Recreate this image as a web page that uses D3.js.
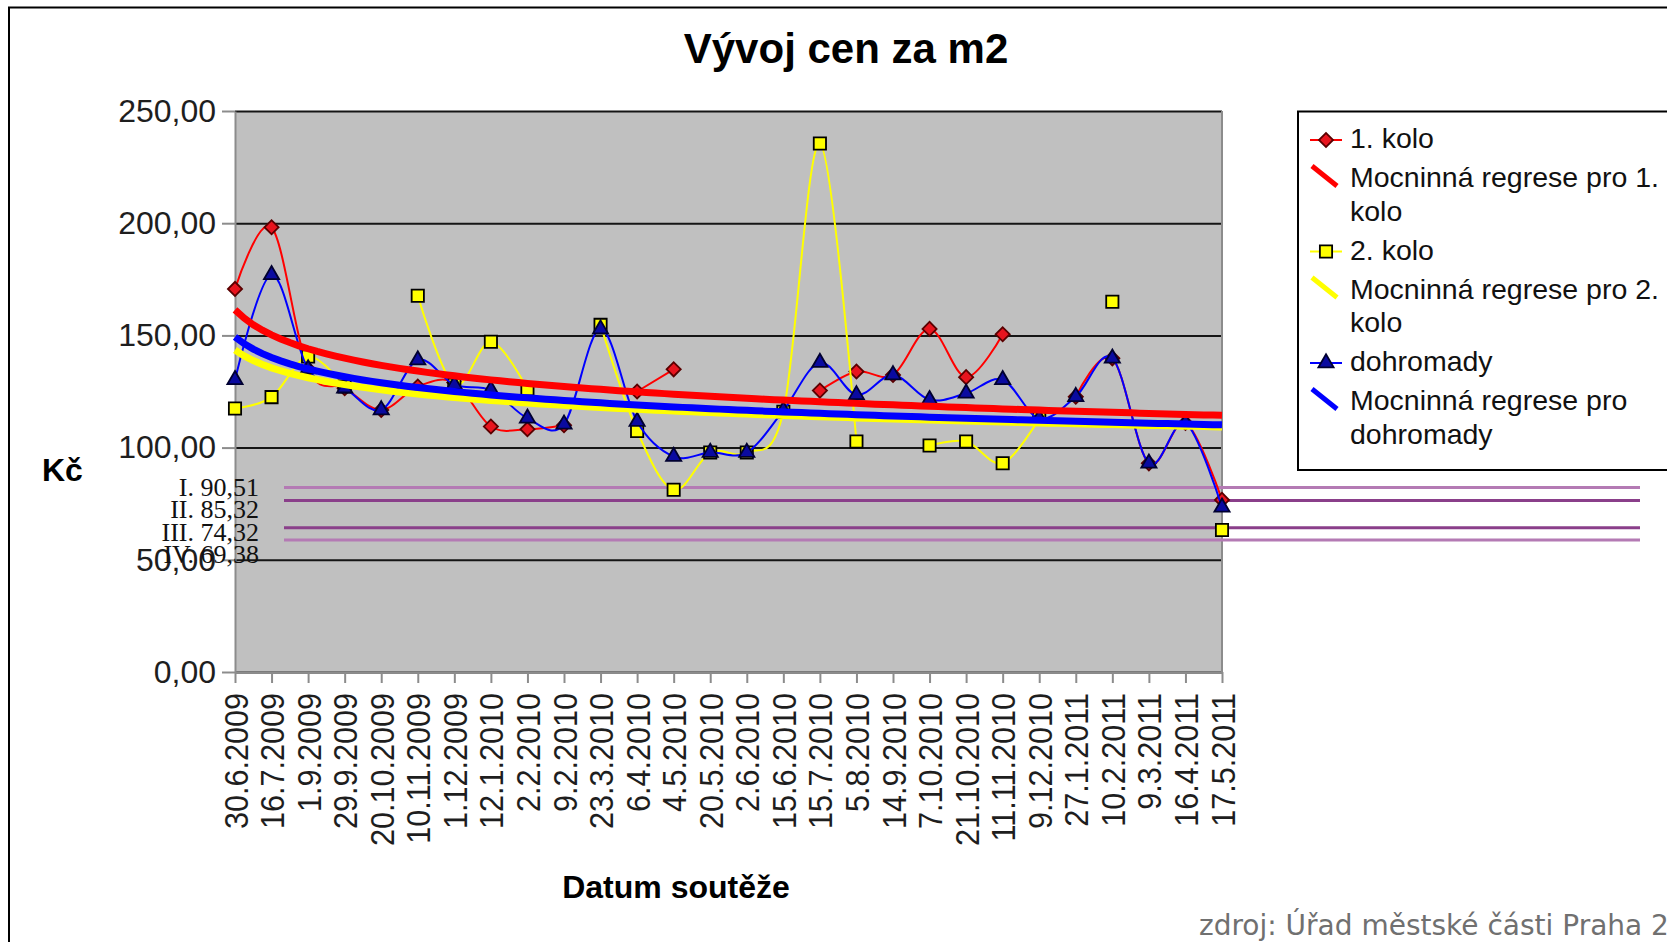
<!DOCTYPE html>
<html>
<head>
<meta charset="utf-8">
<script src="https://cdn.jsdelivr.net/npm/d3@7"></script>
<style>
  body { margin: 0; background: #fff; }
  svg { display: block; }
</style>
</head>
<body>
<div id="chart"></div>
<script>
// values (Kč per m2, one per auction date)
var dates = ["30.6.2009", "16.7.2009", "1.9.2009", "29.9.2009", "20.10.2009", "10.11.2009",
  "1.12.2009", "12.1.2010", "2.2.2010", "9.2.2010", "23.3.2010", "6.4.2010", "4.5.2010",
  "20.5.2010", "2.6.2010", "15.6.2010", "15.7.2010", "5.8.2010", "14.9.2010", "7.10.2010",
  "21.10.2010", "11.11.2010", "9.12.2010", "27.1.2011", "10.2.2011", "9.3.2011",
  "16.4.2011", "17.5.2011"];

var kolo1 = [170.7, 198.2, 135, 126.5, 116.8, 127.2, 129, 109.4, 108.2, 110, null, 125, 134.9,
  null, null, null, 125.4, 133.9, 132.4, 152.9, 131.4, 150.5, null, 122.7, 139.8, 93, 111, 76.7];

var kolo2 = [117.4, 122.5, 140.6, 127.2, null, 167.7, 128, 147.2, 126, null, 154.7, 107.4, 81.2,
  97.8, 97.8, 116, 235.5, 102.7, null, 100.9, 102.7, 93, 113, null, 165, null, null, 63.3];

var dohromady = [130.2, 177, 135, 126.5, 116.8, 139, 128, 125.7, 113.1, 110.4, 152.8, 111.6, 96,
  97.8, 97.8, 116.5, 137.9, 123.5, 132.4, 121.3, 124.2, 130.2, 113, 122.7, 139.8, 93, 111, 73.4];

var yTicks = [0, 50, 100, 150, 200, 250];

// hand drawn limit lines with their captions
var limitLabels = ["I. 90,51", "II. 85,32", "III. 74,32", "IV. 69,38"];
var limitValues = [90.51, 85.32, 74.32, 69.38];

var legendTexts = [
  ["1. kolo"],
  ["Mocninná regrese pro 1.", "kolo"],
  ["2. kolo"],
  ["Mocninná regrese pro 2.", "kolo"],
  ["dohromady"],
  ["Mocninná regrese pro", "dohromady"]
];

var width = 1667, height = 942;
var plot = {left: 235, right: 1222, top: 111, bottom: 672};

var svg = d3.select("#chart").append("svg")
  .attr("width", width)
  .attr("height", height)
  .style("font-family", "'Liberation Sans', Arial, sans-serif");

// chart area frame
svg.append("rect")
  .attr("x", 9).attr("y", 7.5)
  .attr("width", 1700).attr("height", 1000)
  .attr("fill", "#fff")
  .attr("stroke", "#000")
  .attr("stroke-width", 2);

svg.append("text")
  .attr("x", 846).attr("y", 63)
  .attr("text-anchor", "middle")
  .style("font-size", "42px")
  .style("font-weight", "bold")
  .text("Vývoj cen za m2");

var x = d3.scalePoint().domain(dates).range([plot.left, plot.right]);
var xn = d3.scaleLinear().domain([1, dates.length]).range([plot.left, plot.right]);
var y = d3.scaleLinear().domain([0, 250]).range([plot.bottom, plot.top]);

// plot background
svg.append("rect")
  .attr("x", plot.left).attr("y", plot.top)
  .attr("width", plot.right - plot.left)
  .attr("height", plot.bottom - plot.top)
  .attr("fill", "#c0c0c0");

// gridlines
var grid = svg.append("g")
  .attr("transform", "translate(" + plot.left + ",0)")
  .call(d3.axisLeft(y).tickValues(yTicks).tickSize(-(plot.right - plot.left)).tickFormat(""));
grid.select(".domain").remove();
grid.selectAll("line").attr("stroke", "#151515").attr("stroke-width", 2);

// right border of the plot
svg.append("line")
  .attr("x1", plot.right).attr("x2", plot.right)
  .attr("y1", plot.top).attr("y2", plot.bottom)
  .attr("stroke", "#8c8c8c").attr("stroke-width", 2);

// y axis
var fmt = function(d) { return d3.format(".2f")(d).replace(".", ","); };
var yAxis = svg.append("g")
  .attr("transform", "translate(" + plot.left + ",0)")
  .call(d3.axisLeft(y).tickValues(yTicks).tickSize(13).tickSizeOuter(0).tickPadding(6).tickFormat(fmt));
yAxis.select(".domain").attr("stroke", "#8c8c8c").attr("stroke-width", 2);
yAxis.selectAll("line").attr("stroke", "#8c8c8c").attr("stroke-width", 2);
yAxis.selectAll("text")
  .attr("fill", "#1e1e1e")
  .style("font-family", "'Liberation Sans', Arial, sans-serif")
  .style("font-size", "32px");

// x axis
var xAxis = svg.append("g")
  .attr("transform", "translate(0," + plot.bottom + ")")
  .call(d3.axisBottom(x).tickSize(11).tickSizeOuter(0));
xAxis.select(".domain").attr("stroke", "#8c8c8c").attr("stroke-width", 2);
xAxis.selectAll("line").attr("stroke", "#8c8c8c").attr("stroke-width", 2);
xAxis.selectAll("text")
  .attr("x", 0).attr("y", 0).attr("dy", null)
  .attr("fill", "#1e1e1e")
  .style("text-anchor", "end")
  .style("font-family", "'Liberation Sans', Arial, sans-serif")
  .style("font-size", "34px")
  .attr("transform", "translate(12,21) rotate(-90) scale(0.9,1)");

svg.append("text")
  .attr("x", 676).attr("y", 898)
  .attr("text-anchor", "middle")
  .style("font-size", "32px")
  .style("font-weight", "bold")
  .text("Datum soutěže");

svg.append("text")
  .attr("x", 42).attr("y", 481)
  .style("font-size", "32px")
  .style("font-weight", "bold")
  .text("Kč");

// limit lines (drawn on top of the chart, not on the value scale)
var yLimit = d3.scaleLinear().domain([69.38, 90.51]).range([540, 487.5]);
var yLimitLabel = d3.scalePoint().domain(limitLabels).range([496, 563]);
var limitColors = ["#b47ab4", "#8a3f8a", "#8a3f8a", "#b47ab4"];

svg.append("g").selectAll("line")
  .data(limitValues)
  .enter().append("line")
    .attr("x1", 284).attr("x2", 1640)
    .attr("y1", function(d) { return yLimit(d); })
    .attr("y2", function(d) { return yLimit(d); })
    .attr("stroke", function(d, i) { return limitColors[i]; })
    .attr("stroke-width", 3);

svg.append("g").selectAll("text")
  .data(limitLabels)
  .enter().append("text")
    .attr("x", 259)
    .attr("y", function(d) { return yLimitLabel(d); })
    .attr("text-anchor", "end")
    .style("font-family", "'Liberation Serif', 'Times New Roman', serif")
    .style("font-size", "26px")
    .attr("fill", "#111")
    .text(function(d) { return d; });

// series
var series = [
  {values: kolo1, color: "#ff0000", marker: "diamond"},
  {values: kolo2, color: "#ffff00", marker: "square"},
  {values: dohromady, color: "#0000ff", marker: "triangle"}
];

var markerPath = {
  diamond: d3.symbol().type(d3.symbolSquare).size(100)(),
  square: d3.symbol().type(d3.symbolSquare).size(150)(),
  triangle: d3.symbol().type(d3.symbolTriangle).size(100)()
};
var markerStyle = {
  diamond: {fill: "#e8141e", stroke: "#5a0000", rot: 45},
  square: {fill: "#ffff00", stroke: "#000", rot: 0},
  triangle: {fill: "#0a0aa0", stroke: "#000030", rot: 0}
};

var line = d3.line()
  .defined(function(d) { return d != null; })
  .x(function(d, i) { return x(dates[i]); })
  .y(function(d) { return y(d); })
  .curve(d3.curveCardinal.tension(0));

series.forEach(function(s) {
  svg.append("path")
    .datum(s.values)
    .attr("d", line)
    .attr("fill", "none")
    .attr("stroke", s.color)
    .attr("stroke-width", 2);

  var st = markerStyle[s.marker];
  svg.append("g").selectAll("path")
    .data(s.values.map(function(v, i) { return {v: v, i: i}; }).filter(function(d) { return d.v != null; }))
    .enter().append("path")
      .attr("d", markerPath[s.marker])
      .attr("transform", function(d) {
        return "translate(" + x(dates[d.i]) + "," + y(d.v) + ") rotate(" + st.rot + ")";
      })
      .attr("fill", st.fill)
      .attr("stroke", st.stroke)
      .attr("stroke-width", 1.8);
});

// power regression (y = a * x^b), x = category number, like the spreadsheet trendline
function powerFit(values) {
  var pts = [];
  values.forEach(function(v, i) { if (v != null) pts.push([Math.log(i + 1), Math.log(v)]); });
  var mx = d3.mean(pts, function(d) { return d[0]; });
  var my = d3.mean(pts, function(d) { return d[1]; });
  var b = d3.sum(pts, function(d) { return (d[0] - mx) * (d[1] - my); }) /
          d3.sum(pts, function(d) { return (d[0] - mx) * (d[0] - mx); });
  var a = Math.exp(my - b * mx);
  return function(t) { return a * Math.pow(t, b); };
}

var trendLine = d3.line()
  .x(function(d) { return xn(d[0]); })
  .y(function(d) { return y(d[1]); });

series.forEach(function(s) {
  var f = powerFit(s.values);
  var pts = d3.range(1, dates.length + 0.001, 0.25).map(function(t) { return [t, f(t)]; });
  svg.append("path")
    .datum(pts)
    .attr("d", trendLine)
    .attr("fill", "none")
    .attr("stroke", s.color)
    .attr("stroke-width", 7);
});

// legend
var legend = svg.append("g");
legend.append("rect")
  .attr("x", 1298).attr("y", 111.5)
  .attr("width", 420).attr("height", 358.5)
  .attr("fill", "#fff")
  .attr("stroke", "#000")
  .attr("stroke-width", 2);

var baseY = 148;
legendTexts.forEach(function(lines, k) {
  var s = series[Math.floor(k / 2)];
  var isTrend = k % 2 === 1;
  var b = baseY;
  if (isTrend) {
    legend.append("line")
      .attr("x1", 1312).attr("y1", b - 21)
      .attr("x2", 1337).attr("y2", b - 1)
      .attr("stroke", s.color)
      .attr("stroke-width", 5);
  } else {
    var st = markerStyle[s.marker];
    legend.append("line")
      .attr("x1", 1310).attr("x2", 1342)
      .attr("y1", b - 8).attr("y2", b - 8)
      .attr("stroke", s.color)
      .attr("stroke-width", 2);
    legend.append("path")
      .attr("d", markerPath[s.marker])
      .attr("transform", "translate(1326," + (b - 8) + ") rotate(" + st.rot + ")")
      .attr("fill", st.fill)
      .attr("stroke", st.stroke)
      .attr("stroke-width", 1.8);
  }
  lines.forEach(function(t, j) {
    legend.append("text")
      .attr("x", 1350)
      .attr("y", b + j * 33.5)
      .style("font-size", "28.5px")
      .attr("fill", "#111")
      .text(t);
  });
  baseY = b + (lines.length - 1) * 33.5 + 39;
});

svg.append("text")
  .attr("x", 1199).attr("y", 935)
  .style("font-family", "'DejaVu Sans', Verdana, sans-serif")
  .style("font-size", "28px")
  .attr("fill", "#707070")
  .text("zdroj: Úřad městské části Praha 2");
</script>
</body>
</html>
